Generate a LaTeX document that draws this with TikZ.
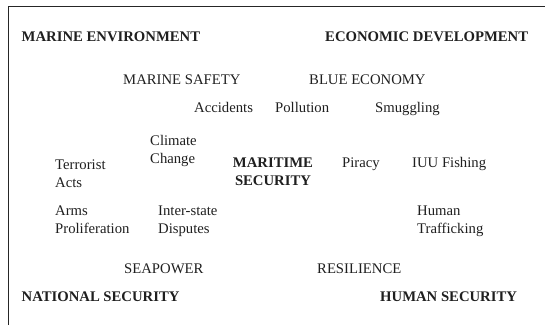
\documentclass[tikz,border=0pt]{standalone}
\usepackage{fontspec}
\setmainfont{Liberation Serif}
\usetikzlibrary{positioning}

\begin{document}
\begin{tikzpicture}[x=1pt, y=-1pt,
        every node/.style={inner sep=0pt, anchor=base west, align=left,
            font=\fontsize{14.7}{18}\selectfont, text=black!88},
        head/.style={font=\fontsize{14.7}{18}\selectfont\bfseries}]
    \useasboundingbox (0,0) rectangle (545,325);
    \draw[line width=1.2pt, black!85] (8.5,325) -- (8.5,6.5) -- (545,6.5);
    % corners
    \node[head] (menv)  at (21.5,41) {MARINE ENVIRONMENT};
    \node[head] (econ)  at (325,41)  {ECONOMIC DEVELOPMENT};
    \node[head] (natsec) at (21.5,301) {NATIONAL SECURITY};
    \node[head] (humsec) at (380,301) {HUMAN SECURITY};
    % inner ring
    \node (msafe) at (123,84)  {MARINE SAFETY};
    \node (blue)  at (309,84)  {BLUE ECONOMY};
    \node (seapower) at (124,273) {SEAPOWER};
    \node (resil) at (317,273) {RESILIENCE};
    % threats (two-line nodes sit on their last line)
    \node (acc)  at (194,112.5) {Accidents};
    \node (poll) at (275,112.5) {Pollution};
    \node (smug) at (375,112.5) {Smuggling};
    \node (climate) at (150,163) {Climate\\Change};
    \node (terror)  at (55,187)  {Terrorist\\Acts};
    \node (piracy)  at (342,167) {Piracy};
    \node (iuu)     at (412,167) {IUU Fishing};
    \node (arms)    at (55,233)  {Arms\\Proliferation};
    \node (inter)   at (158,233) {Inter-state\\Disputes};
    \node (human)   at (417,233) {Human\\Trafficking};
    % centre
    \node[head, anchor=base, align=center] (marsec) at (273,185) {MARITIME\\SECURITY};
\end{tikzpicture}
\end{document}
